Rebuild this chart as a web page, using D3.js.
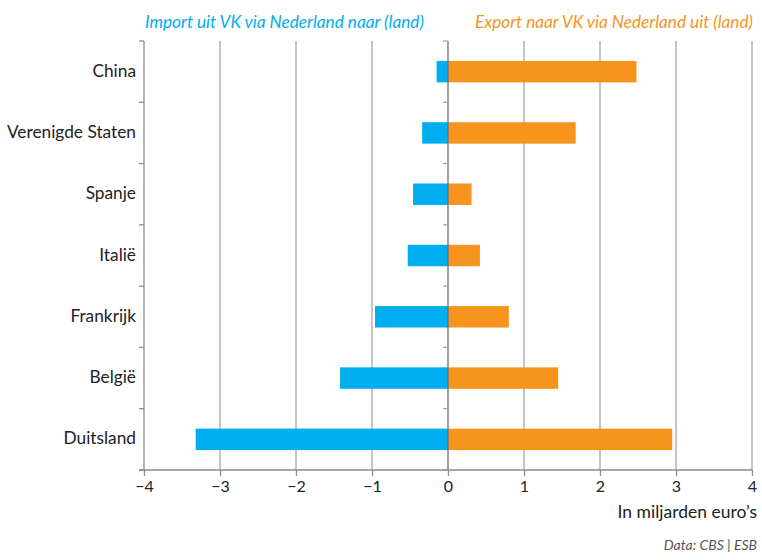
<!DOCTYPE html>
<html>
<head>
<meta charset="utf-8">
<script src="https://cdn.jsdelivr.net/npm/d3@7"></script>
<style>
  html, body { margin: 0; padding: 0; background: #fff; }
  svg { display: block; font-family: Lato, "Open Sans", sans-serif; }
</style>
</head>
<body>
<svg id="chart" width="762" height="560"></svg>
<script>
/* ── Data ─────────────────────────────── */
const countries = ["China", "Verenigde Staten", "Spanje", "Italië", "Frankrijk", "België", "Duitsland"];
const importValues = [-0.15, -0.34, -0.46, -0.53, -0.96, -1.42, -3.32];
const exportValues = [2.48, 1.68, 0.31, 0.42, 0.80, 1.45, 2.95];
const xTicks = [-4, -3, -2, -1, 0, 1, 2, 3, 4];

const importLabel = "Import uit VK via Nederland naar (land)";
const exportLabel = "Export naar VK via Nederland uit (land)";
const unitLabel   = "In miljarden euro’s";
const sourceLabel = "Data: CBS | ESB";

const blue   = "#00aeef";
const orange = "#f7941d";

/* ── Layout ───────────────────────────── */
const margin = { top: 41, left: 144 };
const innerW = 608, innerH = 429;

const svg = d3.select("#chart");
const g = svg.append("g").attr("transform", `translate(${margin.left},${margin.top})`);

const x = d3.scaleLinear().domain([-4, 4]).range([0, innerW]);
const y = d3.scaleBand().domain(countries).range([0, innerH]).paddingInner(0.65).paddingOuter(0.325);
const band = d3.scaleBand().domain(countries).range([0, innerH]);

/* ── Gridlines ────────────────────────── */
g.append("g").selectAll("line")
    .data(xTicks.filter(d => d !== -4 && d !== 0)).join("line")
    .attr("x1", d => x(d)).attr("x2", d => x(d))
    .attr("y1", 0).attr("y2", innerH)
    .attr("stroke", "#a6a6a6").attr("stroke-width", 1.3);

/* ── Bars ─────────────────────────────── */
const rows = countries.map((c, i) => ({ c, imp: importValues[i], exp: exportValues[i] }));

g.append("g").selectAll("rect")
    .data(rows).join("rect")
    .attr("x", d => x(d.imp)).attr("width", d => x(0) - x(d.imp))
    .attr("y", d => y(d.c)).attr("height", y.bandwidth())
    .attr("fill", blue);

g.append("g").selectAll("rect")
    .data(rows).join("rect")
    .attr("x", x(0)).attr("width", d => x(d.exp) - x(0))
    .attr("y", d => y(d.c)).attr("height", y.bandwidth())
    .attr("fill", orange);

/* ── Zero line with band ticks ────────── */
const boundaries = countries.map(c => band(c)).concat([innerH]);

g.append("line")
    .attr("x1", x(0)).attr("x2", x(0)).attr("y1", 0).attr("y2", innerH)
    .attr("stroke", "#6e6e6e").attr("stroke-width", 1.3);
g.append("g").selectAll("line")
    .data(boundaries).join("line")
    .attr("x1", x(0) - 5).attr("x2", x(0))
    .attr("y1", d => d).attr("y2", d => d)
    .attr("stroke", "#a6a6a6").attr("stroke-width", 1.3);

/* ── Left axis ────────────────────────── */
g.append("line")
    .attr("x1", 0).attr("x2", 0).attr("y1", 0).attr("y2", innerH)
    .attr("stroke", "#8c8c8c").attr("stroke-width", 1.3);
g.append("g").selectAll("line")
    .data(boundaries).join("line")
    .attr("x1", -5).attr("x2", 0)
    .attr("y1", d => d).attr("y2", d => d)
    .attr("stroke", "#8c8c8c").attr("stroke-width", 1.3);

g.append("g").selectAll("text")
    .data(countries).join("text")
    .attr("x", -8)
    .attr("y", d => band(d) + band.bandwidth() / 2 - 1)
    .attr("dy", "0.35em")
    .attr("text-anchor", "end")
    .attr("font-size", 17.3)
    .attr("fill", "#222")
    .text(d => d);

/* ── Bottom axis ──────────────────────── */
const xAxis = g.append("g")
    .attr("transform", `translate(0,${innerH})`)
    .call(d3.axisBottom(x).tickValues(xTicks).tickSize(6).tickPadding(5)
        .tickFormat(d => d < 0 ? "−" + Math.abs(d) : d));
xAxis.select(".domain").attr("stroke", "#8c8c8c").attr("stroke-width", 1.3)
    .attr("d", `M-5,0H${innerW}`);
xAxis.selectAll(".tick line").attr("stroke", "#8c8c8c").attr("stroke-width", 1.3);
xAxis.selectAll(".tick text")
    .attr("font-size", 16).attr("fill", "#222")
    .attr("font-family", "Lato, sans-serif");

/* ── Titles ───────────────────────────── */
svg.append("text")
    .attr("x", margin.left + 1).attr("y", 28)
    .attr("font-size", 17.2).attr("font-style", "italic")
    .attr("fill", blue)
    .text(importLabel);

svg.append("text")
    .attr("x", 753).attr("y", 28)
    .attr("text-anchor", "end")
    .attr("font-size", 17.2).attr("font-style", "italic")
    .attr("fill", orange)
    .text(exportLabel);

svg.append("text")
    .attr("x", 757).attr("y", 518)
    .attr("text-anchor", "end")
    .attr("font-size", 17.5).attr("fill", "#222")
    .text(unitLabel);

svg.append("text")
    .attr("x", 757).attr("y", 550)
    .attr("text-anchor", "end")
    .attr("font-size", 14).attr("font-style", "italic")
    .attr("fill", "#555")
    .text(sourceLabel);
</script>
</body>
</html>
